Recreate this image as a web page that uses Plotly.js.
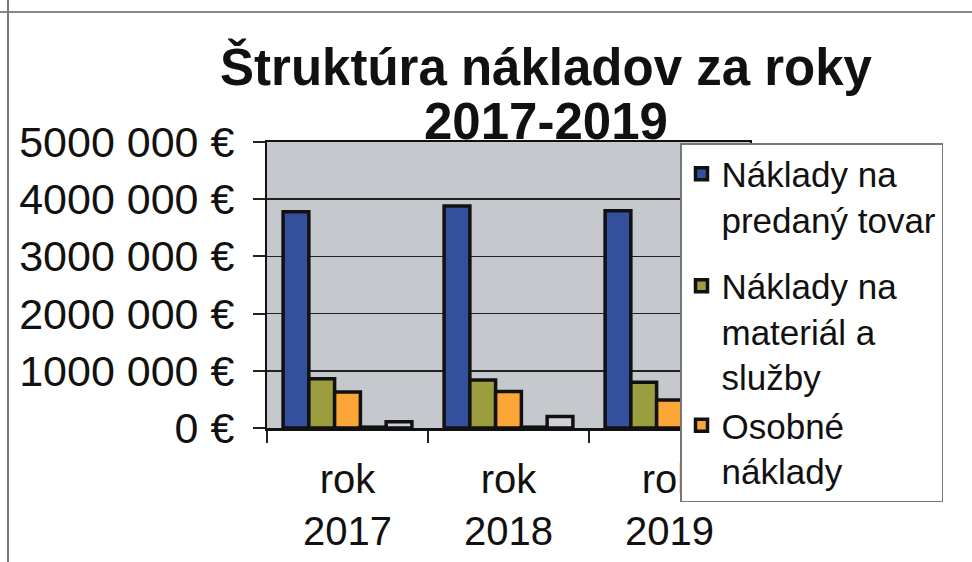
<!DOCTYPE html>
<html>
<head>
<meta charset="utf-8">
<script src="https://cdn.plot.ly/plotly-3.0.1.min.js"></script>
<style>html,body{margin:0;padding:0;background:#fff;}#chart{width:972px;height:562px;}</style>
</head>
<body>
<div id="chart"></div>
<script>
const categories = ["rok<br>2017", "rok<br>2018", "rok<br>2019"];
const seriesNames = ["Náklady na<br>predaný tovar", "Náklady na<br>materiál a<br>služby", "Osobné<br>náklady", "Dane a poplatky", "Odpisy"];
const predanyTovar = [3780000, 3880000, 3800000];
const materialSluzby = [860000, 840000, 800000];
const osobneNaklady = [630000, 640000, 490000];
const daneAPoplatky = [15000, 15000, 15000];
const odpisy = [110000, 200000, 150000];
const yTickVals = [0, 1000000, 2000000, 3000000, 4000000, 5000000];
const yTickText = ["0 €", "1000 000 €", "2000 000 €", "3000 000 €", "4000 000 €", "5000 000 €"];
const titleLine1 = "Štruktúra nákladov za roky";
const titleLine2 = "2017-2019";

const colors = ["#34509c", "#9c9d3e", "#fba636", "#c9ccd2", "#cfd3d8"];
const values = [predanyTovar, materialSluzby, osobneNaklady, daneAPoplatky, odpisy];
const groups = ["a", "b", "b", "c", "c"];

const traces = values.map((v, i) => ({
  type: "bar",
  x: categories,
  y: v,
  name: seriesNames[i],
  legendgroup: groups[i],
  showlegend: i < 3,
  marker: {color: colors[i], line: {color: "#111", width: 3.5}},
  hoverinfo: "none"
}));

const font = "Liberation Sans, Arial, sans-serif";
const L = 267, R = 750, T = 142, B = 428;
const px = x => (x - L) / (R - L);
const py = y => (B - y) / (B - T);

const layout = {
  width: 972, height: 562,
  paper_bgcolor: "#ffffff",
  plot_bgcolor: "#c5c8cc",
  margin: {l: L, r: 972 - R, t: T, b: 562 - B, autoexpand: false},
  barmode: "group",
  bargap: 0.2,
  bargroupgap: 0,
  title: {
    text: "<b>" + titleLine1 + "</b>",
    font: {family: font, size: 51, color: "#111"},
    x: 546 / 972, xref: "container", xanchor: "center",
    y: 1 - 67 / 562, yref: "container", yanchor: "middle"
  },
  annotations: [{
    text: "<b>" + titleLine2 + "</b>",
    font: {family: font, size: 51, color: "#111"},
    xref: "paper", yref: "paper",
    x: px(546), y: py(121), xanchor: "center", yanchor: "middle",
    showarrow: false
  }],
  xaxis: {
    type: "category",
    tickson: "boundaries",
    ticks: "outside", ticklen: 12, tickwidth: 2, tickcolor: "#222",
    showline: true, linecolor: "#111", linewidth: 2.5, mirror: true,
    showgrid: false,
    tickfont: {family: font, size: 40, color: "#111"},
    ticklabelstandoff: 14
  },
  yaxis: {
    range: [0, 5000000],
    tickvals: yTickVals, ticktext: yTickText,
    ticks: "outside", ticklen: 12, tickwidth: 2, tickcolor: "#222",
    showline: true, linecolor: "#111", linewidth: 2, mirror: true,
    showgrid: true, gridcolor: "#222", gridwidth: 1.5,
    zeroline: false,
    tickfont: {family: font, size: 43, color: "#111"},
    ticklabelstandoff: 10
  },
  legend: {
    x: px(680), xanchor: "left",
    y: py(143), yanchor: "top",
    maxheight: 420,
    bgcolor: "#ffffff", bordercolor: "#777", borderwidth: 1.5,
    font: {family: font, size: 35, color: "#111"},
    valign: "top",
    tracegroupgap: 18,
    traceorder: "grouped"
  },
  shapes: [
    {type: "line", xref: "paper", yref: "paper", x0: px(0), x1: px(972), y0: py(12), y1: py(12), line: {color: "#888", width: 2}},
    {type: "line", xref: "paper", yref: "paper", x0: px(8), x1: px(8), y0: py(0), y1: py(562), line: {color: "#777", width: 2}}
  ],
  showlegend: true
};

Plotly.newPlot("chart", traces, layout, {displayModeBar: false, staticPlot: true});
</script>
</body>
</html>
